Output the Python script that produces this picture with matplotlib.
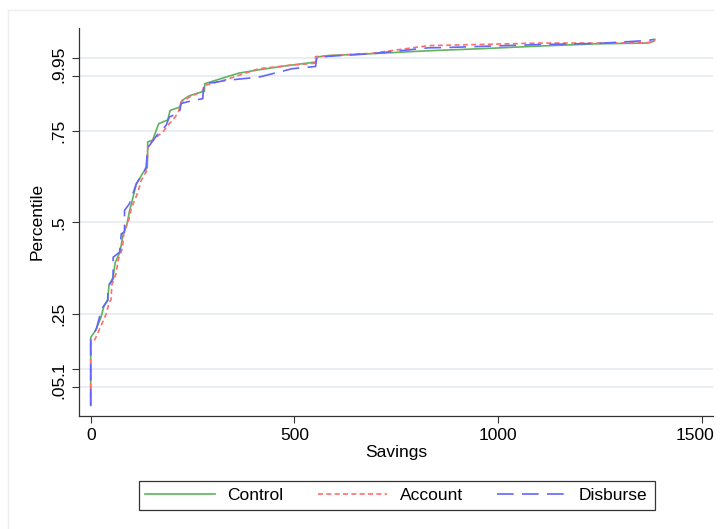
import matplotlib.pyplot as plt
import matplotlib.transforms as mtransforms
from matplotlib.lines import Line2D

plt.rcParams['font.family'] = ['Liberation Sans', 'DejaVu Sans']

# cumulative distribution of savings
control_x = [0, 0, 12, 25, 32, 42, 45, 55, 60, 72, 80, 88, 95, 112, 128, 139, 140, 152, 167,
             189, 195, 218, 224, 242, 271, 279, 280, 332, 364, 413, 487, 552, 556, 585, 690,
             830, 968, 1106, 1246, 1368, 1383, 1385]
control_y = [0, 0.186, 0.205, 0.24, 0.27, 0.29, 0.33, 0.35, 0.39, 0.42, 0.47, 0.49, 0.53, 0.605,
             0.635, 0.65, 0.72, 0.725, 0.77, 0.78, 0.806, 0.815, 0.833, 0.846, 0.856, 0.858,
             0.879, 0.897, 0.908, 0.917, 0.929, 0.938, 0.952, 0.956, 0.961, 0.969, 0.975,
             0.982, 0.988, 0.99, 0.995, 1.0]

account_x = [0, 0, 10, 18, 30, 38, 45, 50, 52, 62, 68, 78, 82, 92, 100, 115, 124, 137, 141, 161,
             177, 193, 201, 215, 222, 242, 275, 279, 332, 413, 487, 550, 552, 690, 830, 1106,
             1246, 1368, 1383, 1385]
account_y = [0, 0.169, 0.18, 0.2, 0.23, 0.25, 0.28, 0.29, 0.33, 0.36, 0.40, 0.43, 0.48, 0.50,
             0.54, 0.58, 0.615, 0.64, 0.71, 0.733, 0.747, 0.77, 0.779, 0.80, 0.829, 0.842,
             0.859, 0.874, 0.89, 0.92, 0.929, 0.935, 0.953, 0.962, 0.983, 0.99, 0.99, 0.991,
             0.995, 1.0]

disburse_x = [0, 0, 14, 26, 30, 42, 42, 55, 55, 71, 75, 83, 83, 95, 112, 128, 136, 140, 144, 165,
              185, 193, 218, 222, 250, 275, 278, 307, 332, 413, 495, 552, 555, 585, 690, 830,
              879, 1106, 1246, 1368, 1383]
disburse_y = [0, 0.182, 0.21, 0.26, 0.269, 0.287, 0.323, 0.346, 0.405, 0.419, 0.469, 0.474, 0.533,
              0.551, 0.606, 0.633, 0.651, 0.706, 0.71, 0.742, 0.765, 0.788, 0.80, 0.825, 0.833,
              0.838, 0.879, 0.883, 0.888, 0.897, 0.92, 0.926, 0.95, 0.954, 0.961, 0.977, 0.978,
              0.986, 0.989, 0.997, 1.0]

y_ticks = [0.05, 0.1, 0.25, 0.5, 0.75, 0.9, 0.95]
y_labels = ['.05', '.1', '.25', '.5', '.75', '.9', '.95']
x_ticks = [0, 500, 1000, 1500]

fig = plt.figure(figsize=(7.21, 5.29), dpi=100)
ax = fig.add_axes([0.110, 0.214, 0.879, 0.733])

green = '#5fb35f'
red = '#ff6e6e'
blue = '#6464ff'
fs = 12.5

ax.plot(control_x, control_y, color=green, lw=1.2, label='Control', zorder=3)
ax.plot(account_x, account_y, color=red, lw=1.2, dashes=(3, 2), label='Account', zorder=4)
ax.plot(disburse_x, disburse_y, color=blue, lw=1.2, dashes=(10, 5), label='Disburse', zorder=5)

ax.set_xlim(-28, 1528)
ax.set_ylim(-0.028, 1.031)
ax.set_xticks(x_ticks)
ax.set_yticks(y_ticks)
ax.set_yticklabels(y_labels)
for lab in ax.get_yticklabels():
    lab.set_rotation(90)
    lab.set_va('center')
ax.tick_params(axis='both', length=5, width=0.8, labelsize=fs, color='#333333')
ax.tick_params(axis='x', pad=4)
ax.tick_params(axis='y', pad=4.5)

# last x label sits a little to the left so it stays inside the picture
last = ax.get_xticklabels()[-1]
last.set_transform(last.get_transform() +
                   mtransforms.ScaledTranslation(-5 / 72, 0, fig.dpi_scale_trans))

ax.grid(axis='y', color='#e8eef1', lw=1.4)
ax.set_axisbelow(True)
for s in ['top', 'right']:
    ax.spines[s].set_visible(False)
for s in ['left', 'bottom']:
    ax.spines[s].set_color('#333333')
    ax.spines[s].set_linewidth(0.9)

ax.set_xlabel('Savings', fontsize=fs, labelpad=1)
ax.set_ylabel('Percentile', fontsize=fs, labelpad=5)

handles = [Line2D([], [], color=green, lw=1.2),
           Line2D([], [], color=red, lw=1.2, dashes=(3, 2)),
           Line2D([], [], color=blue, lw=1.2, dashes=(10, 5))]
leg = fig.legend(handles, ['Control', 'Account', 'Disburse'], ncol=3,
                 loc='lower center', bbox_to_anchor=(0.55, 0.036),
                 fontsize=fs, handlelength=4.0, columnspacing=2.0,
                 frameon=True, fancybox=False, edgecolor='black',
                 borderpad=0.4, handletextpad=0.7, borderaxespad=0)
leg.get_frame().set_linewidth(0.9)

# faint outer graph border
fig.add_artist(Line2D([8 / 721, 713 / 721], [1 - 10 / 529, 1 - 10 / 529],
                      color='#eeeeee', lw=1, transform=fig.transFigure))
fig.add_artist(Line2D([8 / 721, 8 / 721], [1 - 10 / 529, 0], color='#eeeeee', lw=1,
                      transform=fig.transFigure))

fig.savefig('out.png', dpi=100)
